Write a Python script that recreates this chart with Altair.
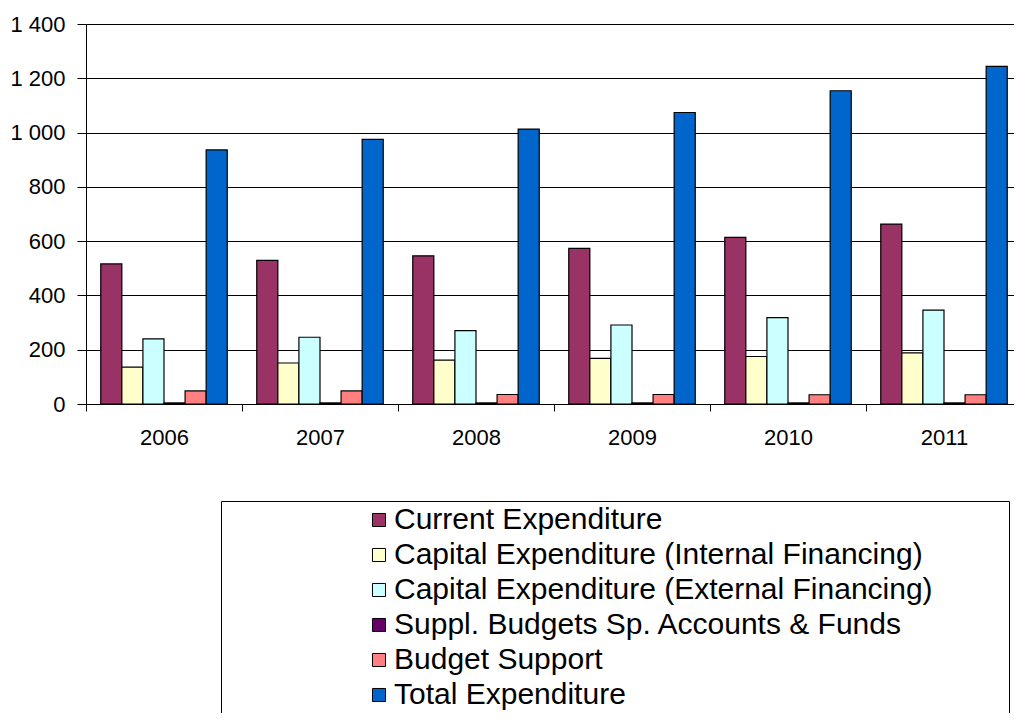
import altair as alt
import pandas as pd

years = ["2006", "2007", "2008", "2009", "2010", "2011"]
series = [
    "Current Expenditure",
    "Capital Expenditure (Internal Financing)",
    "Capital Expenditure (External Financing)",
    "Suppl. Budgets Sp. Accounts & Funds",
    "Budget Support",
    "Total Expenditure",
]
current = [516, 529, 546, 573, 614, 663]
cap_internal = [136, 151, 162, 168, 175, 188]
cap_external = [240, 246, 270, 291, 318, 346]
suppl_budgets = [4, 4, 4, 4, 4, 4]
budget_support = [48, 48, 35, 35, 34, 34]
total = [936, 975, 1013, 1074, 1154, 1244]
colors = ["#993366", "#FFFFCC", "#CCFFFF", "#660066", "#FF8080", "#0066CC"]
y_ticks = [0, 200, 400, 600, 800, 1000, 1200, 1400]

rows = []
for name, vals in zip(series, [current, cap_internal, cap_external, suppl_budgets, budget_support, total]):
    for yr, v in zip(years, vals):
        rows.append({"Year": yr, "Series": name, "Value": v})
df = pd.DataFrame(rows)

FONT = "Liberation Sans"

chart = alt.Chart(df).mark_bar(stroke="black", strokeWidth=1.2).encode(
    x=alt.X(
        "Year:N",
        sort=years,
        scale=alt.Scale(paddingInner=0, paddingOuter=0, range=[0, 936]),
        axis=alt.Axis(
            title=None, tickBand="extent", labelAngle=0, labelFontSize=22,
            labelFont=FONT, labelColor="black", labelPadding=16, tickSize=7,
            tickColor="black", domainColor="black", grid=False,
        ),
    ),
    xOffset=alt.XOffset("Series:N", sort=series, scale=alt.Scale(paddingInner=0, paddingOuter=0.7)),
    y=alt.Y(
        "Value:Q",
        scale=alt.Scale(domain=[0, 1400], nice=False),
        axis=alt.Axis(
            title=None, values=y_ticks, labelFontSize=22, labelFont=FONT,
            labelColor="black", labelPadding=12, tickSize=9, tickColor="black",
            domainColor="black", grid=True, gridColor="black", gridWidth=1,
            labelExpr="replace(format(datum.value, ','), ',', ' ')",
        ),
    ),
    color=alt.Color(
        "Series:N",
        sort=series,
        scale=alt.Scale(domain=series, range=colors),
        legend=alt.Legend(
            orient="none", legendX=135, legendY=477,
            title=" ", titleOrient="right", titlePadding=72, titleFontSize=30,
            padding=4, rowPadding=5, labelFontSize=30, labelFont=FONT,
            labelColor="black", labelLimit=800, symbolType="square", symbolSize=170,
            symbolStrokeColor="black", symbolStrokeWidth=1, symbolOffset=139,
            labelOffset=0, strokeColor="black", fillColor="white",
        ),
    ),
).properties(
    width=928,
    height=380,
    autosize=alt.AutoSizeParams(type="none"),
    padding={"left": 78, "top": 16, "right": 0, "bottom": 309},
).configure_view(stroke="transparent").configure(font=FONT)

chart.save("out.html", embed_options={"renderer": "svg", "actions": False})
